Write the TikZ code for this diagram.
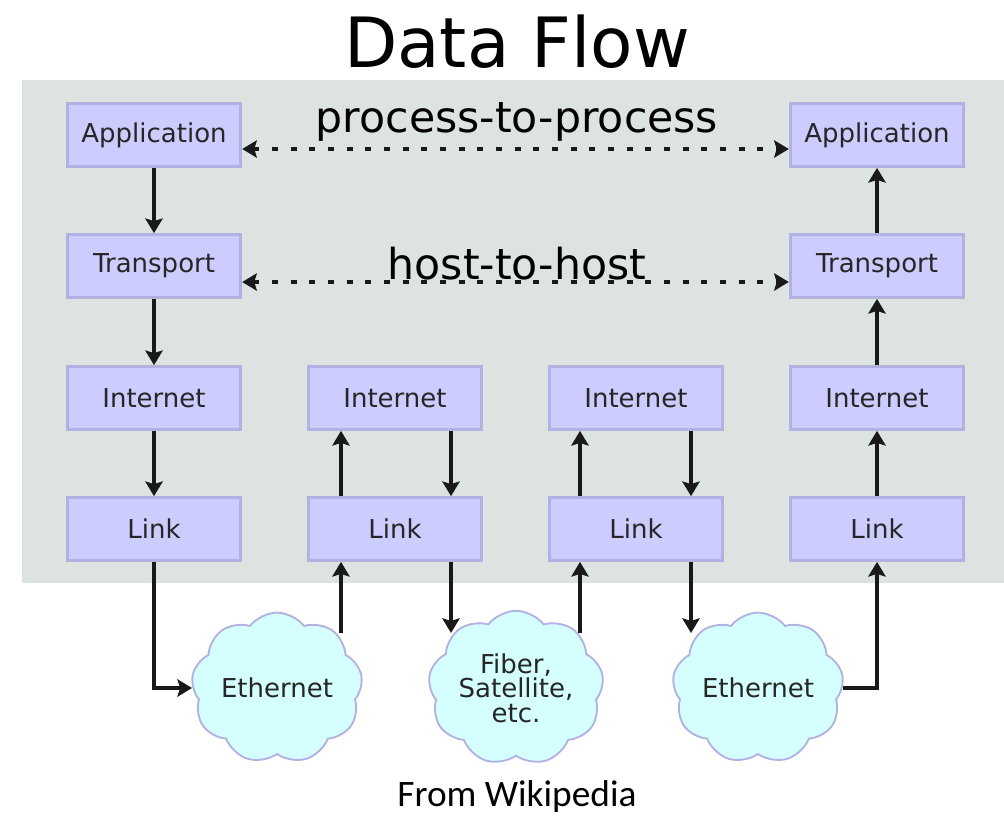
\documentclass[tikz,border=0pt]{standalone}
\usepackage{fontspec}
\setmainfont{DejaVu Sans}
\newfontfamily\carlito{Carlito}
\usetikzlibrary{shapes.symbols,arrows.meta}
\definecolor{bgray}{HTML}{DDE3E0}
\definecolor{boxfill}{HTML}{CCCCFF}
\definecolor{boxline}{HTML}{B2B2E2}
\definecolor{cloudfill}{HTML}{D5FFFF}
\begin{document}
\begin{tikzpicture}[x=0.75pt,y=-0.75pt,
	layer/.style={draw=boxline,fill=boxfill,line width=2.3pt,minimum width=130pt,minimum height=47pt,inner sep=0pt,text=black!85,font=\fontsize{19.5}{23}\selectfont},
	net/.style={cloud,cloud puffs=9,cloud puff arc=105,aspect=1.2,draw=boxline,fill=cloudfill,line width=1.4pt,minimum width=118pt,minimum height=96pt,inner sep=0pt,align=center,text=black!85,font=\fontsize{19.5}{18.5}\selectfont},
	arr/.style={line width=2.6pt,draw=black!90,-{Stealth[length=11pt,width=13pt,inset=2pt]}},
	peer/.style={line width=2.8pt,draw=black!90,dash pattern=on 4.5pt off 9.5pt,{Stealth[length=11pt,width=13pt,inset=2pt]}-{Stealth[length=11pt,width=13pt,inset=2pt]}}]
	\useasboundingbox (0,0) rectangle (1004,815);
	\fill[bgray] (22,80) rectangle (1004,583);
	\node (title) at (517,42) {\fontsize{52}{60}\selectfont Data Flow};
	\node (src) at (517,797) {\carlito\fontsize{28}{32}\selectfont From Wikipedia};

	\node[layer] (app1) at (154,135) {Application};
	\node[layer] (tra1) at (154,266) {Transport};
	\node[layer] (int1) at (154,398) {Internet};
	\node[layer] (lnk1) at (154,529) {Link};
	\node[layer] (int2) at (395,398) {Internet};
	\node[layer] (lnk2) at (395,529) {Link};
	\node[layer] (int3) at (636,398) {Internet};
	\node[layer] (lnk3) at (636,529) {Link};
	\node[layer] (app4) at (877,135) {Application};
	\node[layer] (tra4) at (877,266) {Transport};
	\node[layer] (int4) at (877,398) {Internet};
	\node[layer] (lnk4) at (877,529) {Link};

	\node[net] (eth1) at (277,688) {Ethernet};
	\node[net] (fib) at (516,688) {Fiber,\\Satellite,\\etc.};
	\node[net] (eth2) at (758,688) {Ethernet};

	\coordinate (up2) at (341,633);
	\coordinate (dn2) at (451,633);
	\coordinate (up3) at (580,633);
	\coordinate (dn3) at (691,633);

	\draw[peer] ([yshift=-10.5pt]app1.east) -- ([yshift=-10.5pt]app4.west);
	\draw[peer] ([yshift=-12pt]tra1.east) -- ([yshift=-12pt]tra4.west);
	\node (p2p) at (517,122) {\fontsize{32}{38}\selectfont process-to-process};
	\node (h2h) at (517,264) {\fontsize{32}{38}\selectfont host-to-host};

	\draw[arr] (app1) -- (tra1);
	\draw[arr] (tra1) -- (int1);
	\draw[arr] (int1) -- (lnk1);
	\draw[arr] (lnk1.south) |- (eth1.west);

	\draw[arr] (up2) -- (up2 |- lnk2.south);
	\draw[arr] (up2 |- lnk2.north) -- (up2 |- int2.south);
	\draw[arr] (dn2 |- int2.south) -- (dn2 |- lnk2.north);
	\draw[arr] (dn2 |- lnk2.south) -- (dn2);

	\draw[arr] (up3) -- (up3 |- lnk3.south);
	\draw[arr] (up3 |- lnk3.north) -- (up3 |- int3.south);
	\draw[arr] (dn3 |- int3.south) -- (dn3 |- lnk3.north);
	\draw[arr] (dn3 |- lnk3.south) -- (dn3);

	\draw[arr] (eth2.east) -| (lnk4.south);
	\draw[arr] (lnk4) -- (int4);
	\draw[arr] (int4) -- (tra4);
	\draw[arr] (tra4) -- (app4);
\end{tikzpicture}
\end{document}
